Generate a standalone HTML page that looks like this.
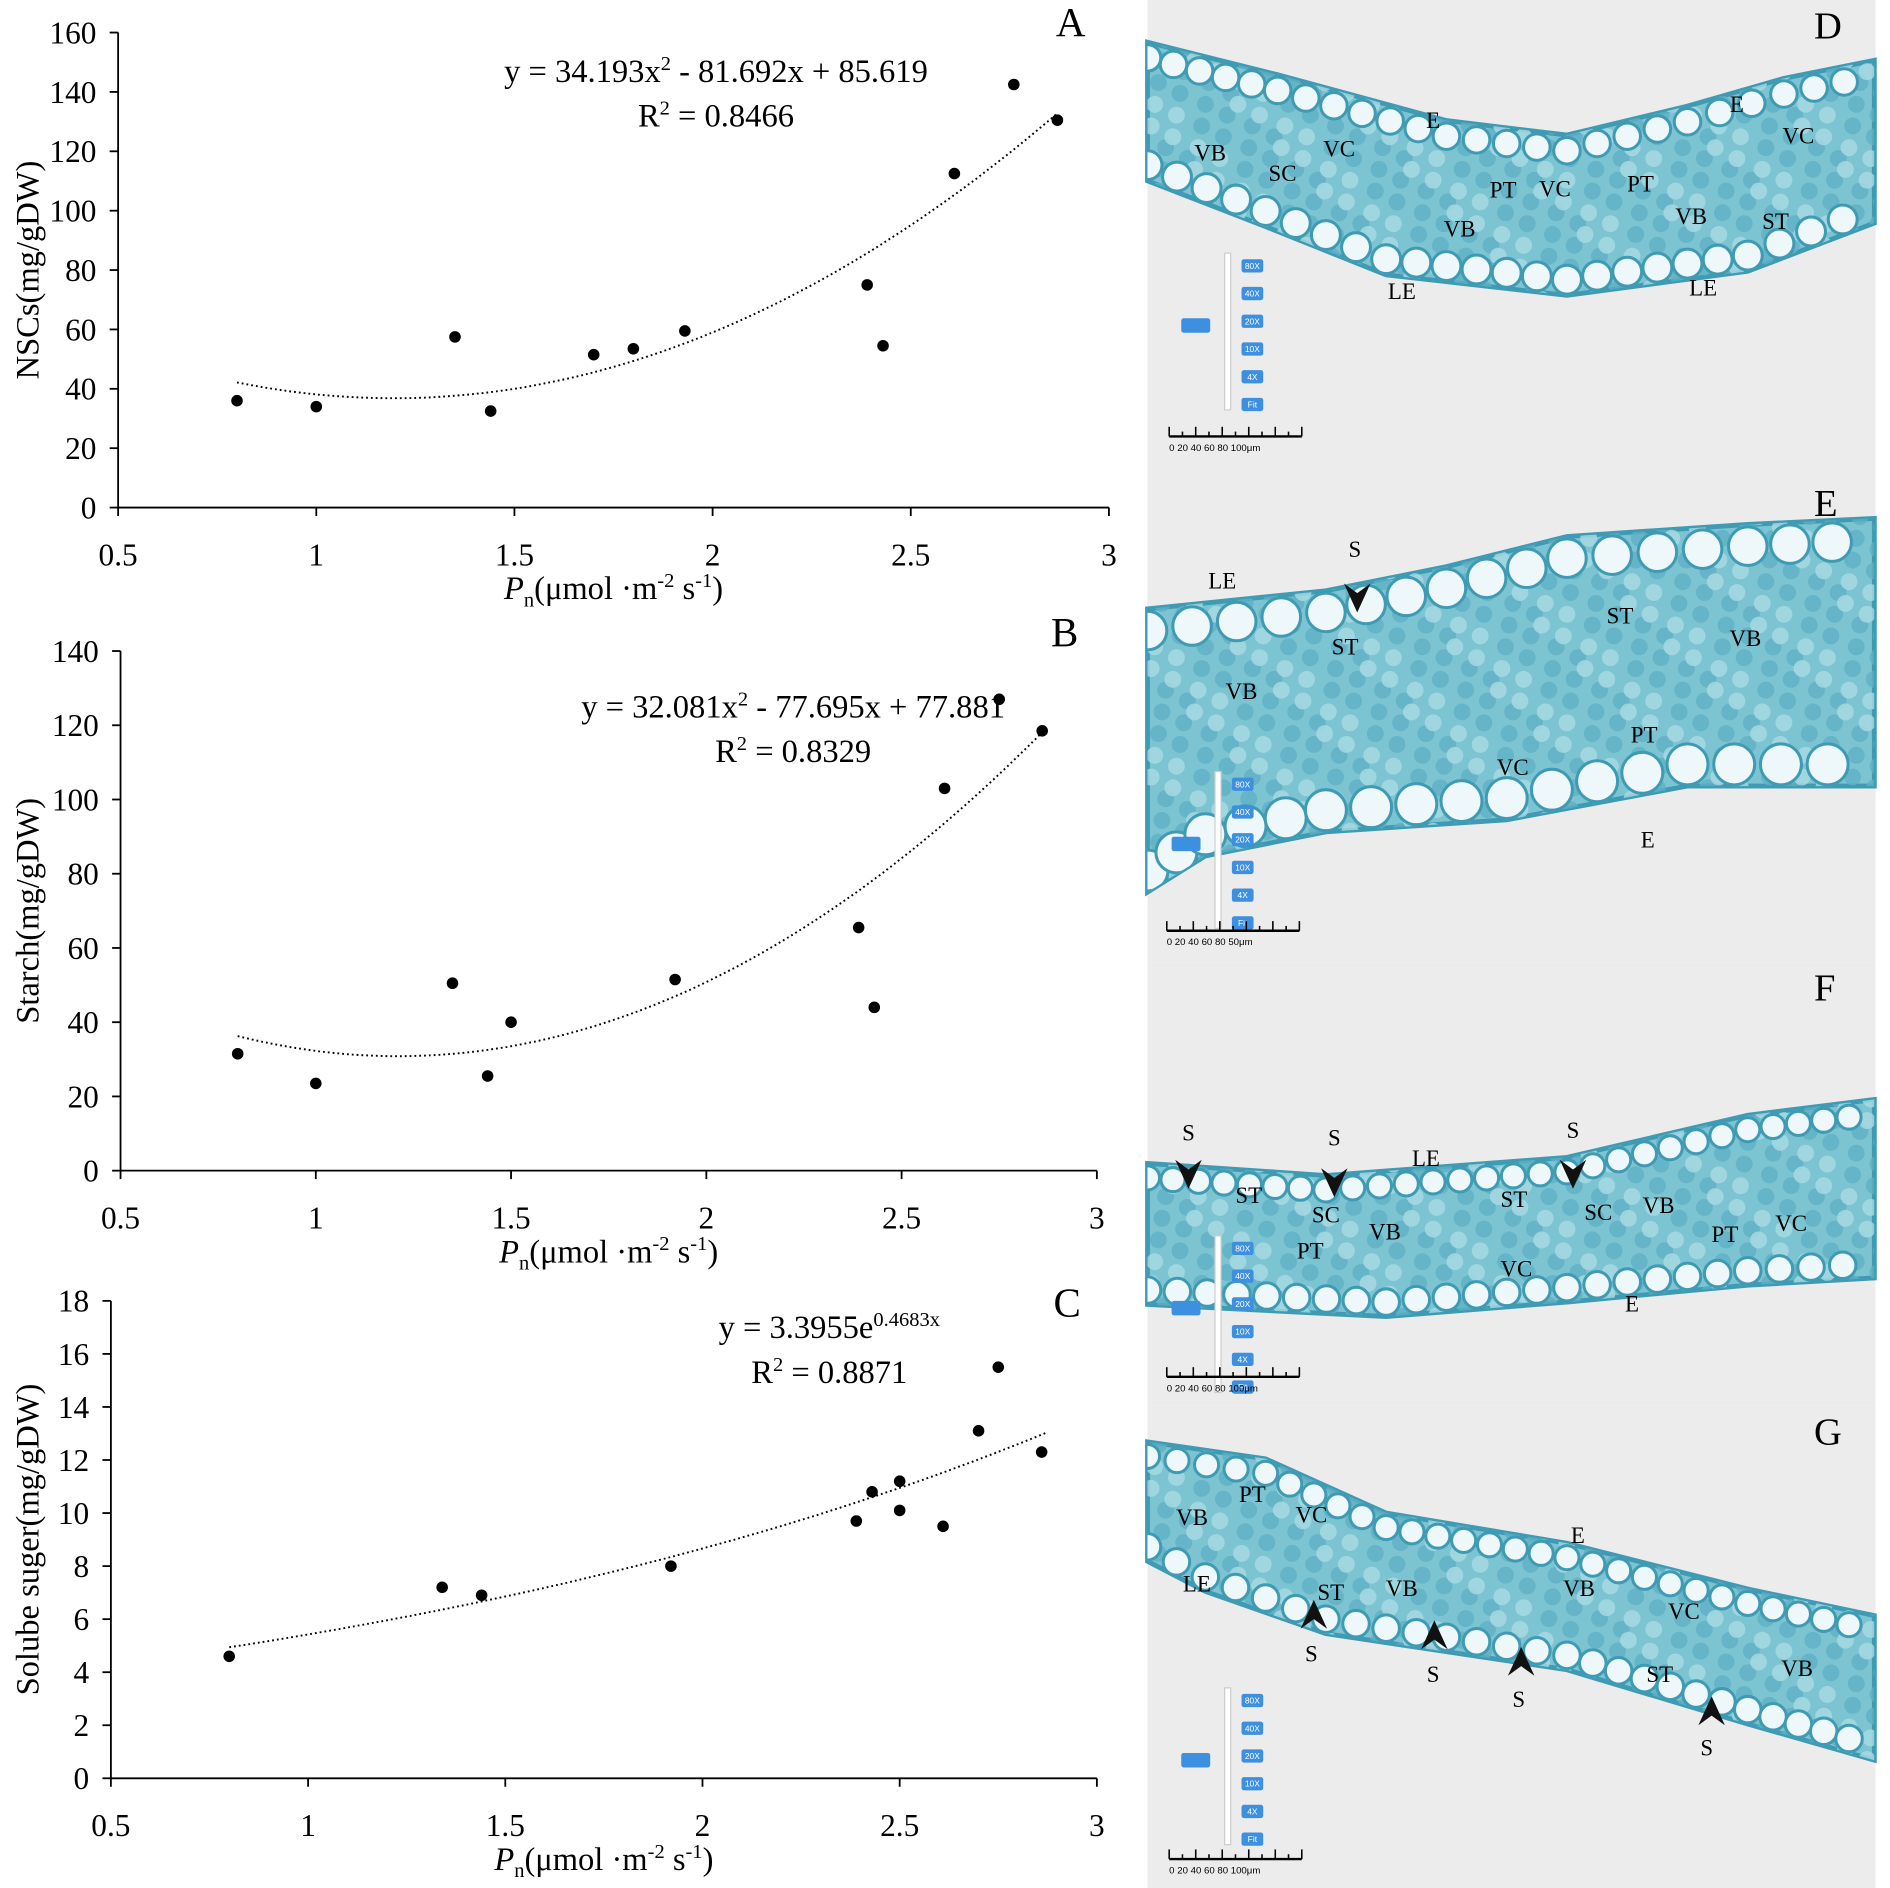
<!DOCTYPE html>
<html><head><meta charset="utf-8"><style>
html,body{margin:0;padding:0;background:#fff;}
svg{display:block;font-family:"Liberation Serif",serif;}
</style></head><body>
<svg id="fig" width="1890" height="1888" viewBox="0 0 1568 1566" preserveAspectRatio="none" xmlns="http://www.w3.org/2000/svg">
<rect width="1568" height="1566" fill="#fff"/>
<g id="micro"></g>
<g id="charts"></g>
</svg>
<script>
const NS="http://www.w3.org/2000/svg";
// ---- data ----
const aX=[0.8,1,1.35,1.44,1.7,1.8,1.93,2.39,2.43,2.61,2.76,2.87];
const aY=[36,34,57.5,32.5,51.5,53.5,59.5,75,54.5,112.5,142.5,130.5];
const bX=[0.8,1,1.35,1.44,1.5,1.92,2.39,2.43,2.61,2.75,2.86];
const bY=[31.5,23.5,50.5,25.5,40,51.5,65.5,44,103,127,118.5];
const cX=[0.8,1.34,1.44,1.92,2.39,2.43,2.5,2.5,2.61,2.7,2.75,2.86];
const cY=[4.6,7.2,6.9,8,9.7,10.8,11.2,10.1,9.5,13.1,15.5,12.3];
const xTicks=[0.5,1,1.5,2,2.5,3];
const aTicks=[0,20,40,60,80,100,120,140,160];
const bTicks=[0,20,40,60,80,100,120,140];
const cTicks=[0,2,4,6,8,10,12,14,16,18];
const aFit=[34.193,-81.692,85.619];
const bFit=[32.081,-77.695,77.881];
const cFit=[3.3955,0.4683];

function el(tag,attrs,parent,text){const e=document.createElementNS(NS,tag);for(const k in attrs)e.setAttribute(k,attrs[k]);if(text!==undefined)e.textContent=text;parent.appendChild(e);return e;}
const charts=document.getElementById('charts');

function chart(o){
  const g=el('g',{},charts);
  
  
  const sx=v=>o.x0+(v-0.5)/(2.5)*(o.x1-o.x0);
  const sy=v=>o.y0-(v/o.ymax)*(o.y0-o.y1);
  el('line',{x1:o.x0,y1:o.y0,x2:o.x1,y2:o.y0,stroke:'#000','stroke-width':1.5},g);
  el('line',{x1:o.x0,y1:o.y0,x2:o.x0,y2:o.y1,stroke:'#000','stroke-width':1.5},g);
  xTicks.forEach(t=>{const x=sx(t);el('line',{x1:x,y1:o.y0,x2:x,y2:o.y0+7,stroke:'#000','stroke-width':1.5},g);
    const tx=el('text',{x:x,y:o.y0+48,'font-size':26,'text-anchor':'middle'},g,String(t));});
  o.ticks.forEach(t=>{const y=sy(t);el('line',{x1:o.x0-7,y1:y,x2:o.x0,y2:y,stroke:'#000','stroke-width':1.5},g);
    const tx=el('text',{x:o.x0-18,y:y+9,'font-size':26,'text-anchor':'end'},g,String(t));});
  let d='';for(let i=0;i<=60;i++){const x=0.8+(2.87-0.8)*i/60;const y=o.f(x);d+=(i?'L':'M')+sx(x).toFixed(1)+' '+sy(y).toFixed(1);}
  const p=el('path',{d:d,fill:'none',stroke:'#000','stroke-width':1.6,'stroke-dasharray':'1.5 2.5'},g);
  
  o.xs.forEach((x,i)=>{const c=el('circle',{cx:sx(x),cy:sy(o.ys[i]),r:4.8,fill:'#000'},g);
    });
  const yt=el('text',{transform:`translate(${o.yl},${(o.y0+o.y1)/2}) rotate(-90)`,'font-size':27,'text-anchor':'middle'},g,o.ylabel);
  
  const xt=el('text',{x:(o.x0+o.x1)/2,y:o.y0+76,'font-size':27,'text-anchor':'middle'},g);
  
  xt.innerHTML='<tspan font-style="italic">P</tspan><tspan font-size="17" dy="6">n</tspan><tspan dy="-6">(μmol ·m</tspan><tspan font-size="17" dy="-10">-2</tspan><tspan dy="10"> s</tspan><tspan font-size="17" dy="-10">-1</tspan><tspan dy="10">)</tspan>';
  const eq=el('text',{x:o.ex,y:o.ey,'font-size':27,'text-anchor':'middle'},g);
  
  eq.innerHTML=o.eq;
  const r2=el('text',{x:o.ex,y:o.ey+37,'font-size':27,'text-anchor':'middle'},g);
  
  r2.innerHTML=o.r2;
  const pl=el('text',{x:o.px,y:o.py,'font-size':34},g,o.panel);
  
}
chart({name:'chart-a-nscs',x0:98,x1:920,y0:421,y1:27,ymax:160,ticks:aTicks,xs:aX,ys:aY,f:x=>aFit[0]*x*x+aFit[1]*x+aFit[2],ylabel:'NSCs(mg/gDW)',yl:32,
 eq:'y = 34.193x<tspan font-size="17" dy="-10">2</tspan><tspan dy="10"> - 81.692x + 85.619</tspan>',r2:'R<tspan font-size="17" dy="-10">2</tspan><tspan dy="10"> = 0.8466</tspan>',ex:594,ey:68,panel:'A',px:876,py:30});
chart({name:'chart-b-starch',x0:100,x1:910,y0:971,y1:540,ymax:140,ticks:bTicks,xs:bX,ys:bY,f:x=>bFit[0]*x*x+bFit[1]*x+bFit[2],ylabel:'Starch(mg/gDW)',yl:32,
 eq:'y = 32.081x<tspan font-size="17" dy="-10">2</tspan><tspan dy="10"> - 77.695x + 77.881</tspan>',r2:'R<tspan font-size="17" dy="-10">2</tspan><tspan dy="10"> = 0.8329</tspan>',ex:658,ey:595,panel:'B',px:872,py:536});
chart({name:'chart-c-soluble-sugar',x0:92,x1:910,y0:1475,y1:1079,ymax:18,ticks:cTicks,xs:cX,ys:cY,f:x=>cFit[0]*Math.exp(cFit[1]*x),ylabel:'Solube suger(mg/gDW)',yl:32,
 eq:'y = 3.3955e<tspan font-size="17" dy="-10">0.4683x</tspan>',r2:'R<tspan font-size="17" dy="-10">2</tspan><tspan dy="10"> = 0.8871</tspan>',ex:688,ey:1110,panel:'C',px:874,py:1092});

// ---- micrographs ----
const micro=document.getElementById('micro');
const panels=[
 {name:'micrograph-d',y:0,h:396,label:'D',cr:11,top:[[952,35],[1060,62],[1200,100],[1300,112],[1400,88],[1480,65],[1555,50]],bot:[[1555,185],[1450,225],[1300,245],[1150,228],[1050,188],[952,150]],
  labs:[['VB',1004,133],['SC',1064,150],['VC',1111,130],['E',1189,106],['PT',1247,164],['VC',1290,163],['VB',1211,196],['PT',1361,159],['VB',1403,186],['ST',1473,190],['E',1441,93],['VC',1492,119],['LE',1163,248],['LE',1413,245]],arrows:[],scale:[970,362,'100μm'],slider:[1018,210]},
 {name:'micrograph-e',y:396,h:402,label:'E',cr:16,top:[[952,505],[1100,490],[1200,470],[1300,445],[1450,435],[1555,430]],bot:[[1555,652],[1400,652],[1250,680],[1100,690],[1000,710],[952,740]],
  labs:[['LE',1014,488],['S',1124,462],['ST',1116,543],['ST',1344,517],['VB',1448,536],['VB',1030,580],['PT',1364,616],['VC',1255,643],['E',1367,703]],arrows:[[1126,490]],scale:[968,772,'50μm'],slider:[1010,640]},
 {name:'micrograph-f',y:798,h:368,label:'F',cr:10,top:[[952,965],[1100,975],[1300,960],[1450,925],[1555,912]],bot:[[1555,1060],[1450,1066],[1300,1080],[1150,1092],[952,1082]],
  labs:[['S',986,946],['S',1107,950],['S',1305,944],['LE',1183,967],['ST',1036,998],['SC',1100,1014],['VB',1149,1028],['PT',1087,1044],['ST',1256,1001],['SC',1326,1012],['VB',1376,1006],['PT',1431,1030],['VC',1486,1021],['VC',1258,1059],['E',1354,1088]],arrows:[[986,968],[1107,975],[1305,968]],scale:[968,1142,'100μm'],slider:[1010,1025]},
 {name:'micrograph-g',y:1166,h:400,label:'G',cr:10,top:[[952,1196],[1050,1210],[1150,1255],[1300,1280],[1450,1318],[1555,1340]],bot:[[1555,1460],[1450,1430],[1300,1385],[1100,1355],[1000,1320],[952,1295]],
  labs:[['VB',989,1265],['PT',1039,1246],['VC',1088,1263],['E',1309,1280],['LE',993,1320],['ST',1104,1327],['VB',1163,1324],['VB',1310,1324],['VC',1397,1343],['ST',1377,1395],['VB',1491,1390],['S',1088,1378],['S',1189,1395],['S',1260,1416],['S',1416,1456]],arrows:[[1090,1345],[1190,1362],[1262,1384],[1420,1425]],up:true,scale:[970,1542,'100μm'],slider:[1018,1400]}
];
panels.forEach(p=>{
  const g=el('g',{},micro);
  
  
  el('rect',{x:952,y:p.y,width:604,height:p.h,fill:'#ececec'},g);
  const pts=p.top.concat(p.bot).map(q=>q.join(',')).join(' ');
  el('polygon',{points:pts,fill:'#7cc4d2',stroke:'#3f9bb3','stroke-width':4},g);
  const clip='c'+p.label;
  const cp=el('clipPath',{id:clip},g);el('polygon',{points:pts},cp);
  const cg=el('g',{'clip-path':`url(#${clip})`},g);
  // interior mottled cells (deterministic grid)
  for(let x=955;x<1556;x+=18){for(let y=p.y+5;y<p.y+p.h;y+=18){
    const odd=((x*7+y*13)%5);
    el('circle',{cx:x+(odd*3),cy:y+((x/18)%2)*9,r:7,fill:odd<2?'#a9dbe4':'#5fb0c4',opacity:0.8},cg);}}
  const cr=p.cr;
  for(let i=0;i<p.top.length-1;i++){
    const [x1,y1]=p.top[i],[x2,y2]=p.top[i+1];
    const n=Math.max(2,Math.round(Math.hypot(x2-x1,y2-y1)/(cr*2.2)));
    for(let k=0;k<n;k++){const t=k/n;el('circle',{cx:x1+(x2-x1)*t,cy:y1+(y2-y1)*t+cr+2,r:cr,fill:'#eef8fa',stroke:'#3f9bb3','stroke-width':2.5},cg);}
  }
  const bl=p.bot.slice().reverse();
  for(let i=0;i<bl.length-1;i++){
    const [x1,y1]=bl[i],[x2,y2]=bl[i+1];
    const n=Math.max(2,Math.round(Math.hypot(x2-x1,y2-y1)/(cr*2.4)));
    for(let k=0;k<n;k++){const t=k/n;el('circle',{cx:x1+(x2-x1)*t,cy:y1+(y2-y1)*t-cr-2,r:cr+1,fill:'#eef8fa',stroke:'#3f9bb3','stroke-width':2.5},cg);}
  }
  // slider widget
  const [sx,sy]=p.slider;
  el('rect',{x:sx-2,y:sy,width:5,height:130,fill:'#fff',stroke:'#ccc'},g);
  ['80X','40X','20X','10X','4X','Fit'].forEach((t,i)=>{el('rect',{x:sx+12,y:sy+5+i*23,width:18,height:11,fill:'#3d8fe0',rx:2},g);
    el('text',{x:sx+21,y:sy+13+i*23,'font-size':7,fill:'#fff','text-anchor':'middle','font-family':'Liberation Sans'},g,t);});
  el('rect',{x:sx-38,y:sy+54,width:24,height:12,fill:'#3d8fe0',rx:2},g);
  // scale bar
  const [bx,by,bt]=p.scale;
  el('line',{x1:bx,y1:by,x2:bx+110,y2:by,stroke:'#000','stroke-width':2},g);
  for(let i=0;i<=10;i++)el('line',{x1:bx+i*11,y1:by,x2:bx+i*11,y2:by-(i%2?4:8),stroke:'#000','stroke-width':1.3},g);
  el('text',{x:bx,y:by+12,'font-size':8,'font-family':'Liberation Sans'},g,'0    20    40    60    80  '+bt);
  p.arrows.forEach(a=>{const [ax,ay]=a;const d=p.up?`M${ax} ${ay-18} L${ax+11} ${ay+6} L${ax} ${ay-2} L${ax-11} ${ay+6}Z`:`M${ax} ${ay+18} L${ax+11} ${ay-6} L${ax} ${ay+2} L${ax-11} ${ay-6}Z`;
    const ar=el('path',{d:d,fill:'#111'},g);});
  p.labs.forEach(l=>{const t=el('text',{x:l[1],y:l[2],'font-size':19,'text-anchor':'middle'},g,l[0]);});
  const pl=el('text',{x:1505,y:p.y+32,'font-size':32},g,p.label);
  
});
</script>
</body></html>
